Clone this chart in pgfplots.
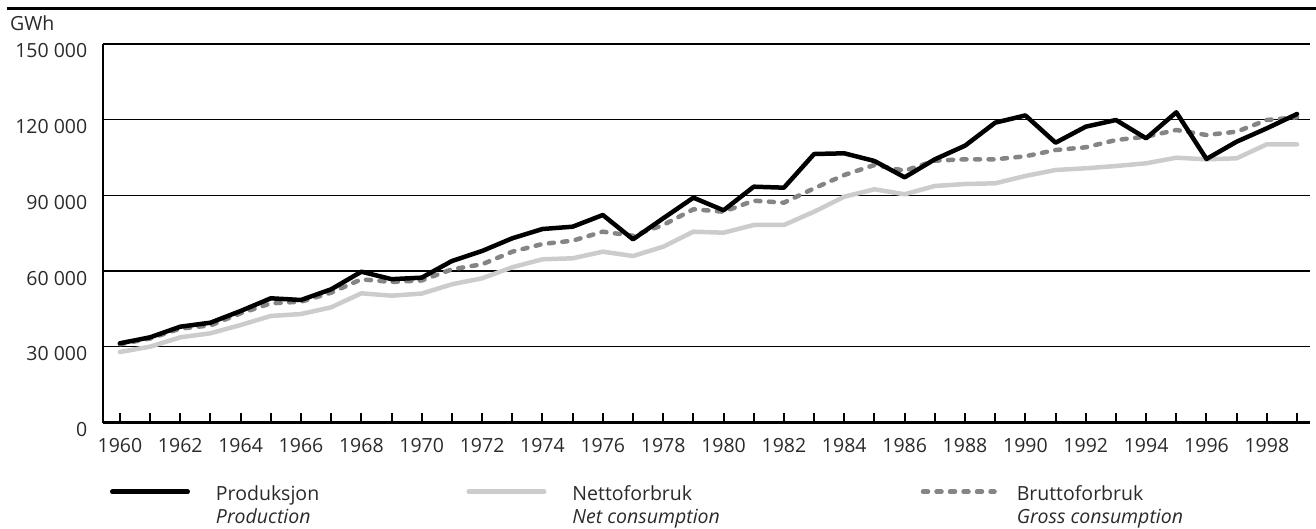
\documentclass[border=0pt]{standalone}
\usepackage{fontspec}
\setmainfont{Open Sans}
\usepackage{pgfplots}
\pgfplotsset{compat=1.18}
\usetikzlibrary{calc}
\definecolor{netc}{HTML}{CCCCCC}
\definecolor{brutc}{HTML}{858585}
\definecolor{txt}{HTML}{2A2A2A}
\newcommand{\fnt}{\fontsize{19.5bp}{22.6bp}\selectfont}
\newcommand{\lstrut}{\rule[-4.5bp]{0pt}{15.8bp}}
\pgfplotsset{
  longimg/.style={legend image code/.code={\path[draw=none,fill=none] (-2.25bp,-14bp) rectangle (77.75bp,14bp);
    \draw[##1,overlay] (0bp,7.2bp) -- (75.5bp,7.2bp);}},
  shortimg/.style={legend image code/.code={\path[draw=none,fill=none] (-2.25bp,-14bp) rectangle (67.75bp,14bp);
    \draw[##1,overlay] (0bp,7.2bp) -- (71.5bp,7.2bp);}},
}
\begin{document}
\begin{tikzpicture}
\begin{axis}[
  scale only axis,
  width=1207bp, height=378.5bp,
  xmin=1959.44, xmax=1999.43,
  ymin=0, ymax=150000,
  axis x line=bottom, axis y line=left,
  x axis line style={-, line width=2.5bp, black},
  y axis line style={-, line width=1.3bp, black},
  ymajorgrids,
  grid style={line width=1.2bp, black},
  xtick={1960,1962,...,1998},
  xticklabels={1960,1962,1964,1966,1968,1970,1972,1974,1976,1978,1980,1982,1984,1986,1988,1990,1992,1994,1996,1998},
  minor xtick={1961,1963,...,1999},
  ytick={0,30000,60000,90000,120000,150000},
  yticklabels={0,30\ 000,60\ 000,90\ 000,120\ 000,150\ 000},
  scaled y ticks=false,
  tick align=inside,
  major tick length=9bp, minor tick length=9bp,
  xtick style={line width=2bp, black},
  ytick style={draw=none},
  font=\fnt,
  tick label style={font=\fnt, text=txt},
  xticklabel style={yshift=-12.7bp},
  yticklabel style={xshift=-12.2bp, yshift=-7bp},
  legend columns=3,
  legend style={at={(rel axis cs:0,0)}, anchor=west, xshift=7bp, yshift=-76.4bp,
    draw=none, fill=none, inner sep=0pt, outer sep=0pt, column sep=0pt,
    cells={anchor=west, inner sep=0pt, text=txt},
    /tikz/every odd column/.append style={column sep=24bp},
    font=\fnt},
  longimg,
]
\coordinate (SW) at (rel axis cs:0,0);
\addplot[netc, line width=4.5bp, line cap=round, line join=round, forget plot] coordinates {
(1960,27940) (1961,30050) (1962,33760) (1963,35350) (1964,38640) (1965,42210)
(1966,43000) (1967,45650) (1968,51200) (1969,50250) (1970,51100) (1971,54770)
(1972,57150) (1973,61510) (1974,64680) (1975,65070) (1976,67690) (1977,65980)
(1978,69670) (1979,75620) (1980,75220) (1981,78270) (1982,78270) (1983,83540)
(1984,89490) (1985,92420) (1986,90440) (1987,93730) (1988,94520) (1989,94790)
(1990,97700) (1991,100070) (1992,100740) (1993,101650) (1994,102720) (1995,104940)
(1996,104300) (1997,104700) (1998,110250) (1999,110250)};
\addplot[brutc, line width=4.5bp, line cap=round, line join=round, dash pattern=on 5bp off 8.5bp, forget plot] coordinates {
(1960,31000) (1961,33300) (1962,37200) (1963,38500) (1964,43270) (1965,47230)
(1966,47880) (1967,51450) (1968,56750) (1969,55680) (1970,56300) (1971,60710)
(1972,62690) (1973,67690) (1974,70740) (1975,72050) (1976,75620) (1977,74000)
(1978,78270) (1979,84490) (1980,83540) (1981,87900) (1982,87110) (1983,92810)
(1984,98080) (1985,102050) (1986,99790) (1987,103760) (1988,104300) (1989,104300)
(1990,105500) (1991,107990) (1992,109060) (1993,111950) (1994,113270) (1995,115920)
(1996,113940) (1997,115250) (1998,119880) (1999,120950)};
\addplot[black, line width=4.5bp, line cap=round, line join=round] coordinates {
(1960,31390) (1961,33760) (1962,37970) (1963,39560) (1964,44190) (1965,49220)
(1966,48550) (1967,52790) (1968,59760) (1969,56800) (1970,57400) (1971,64000)
(1972,67970) (1973,73000) (1974,76680) (1975,77600) (1976,82230) (1977,72600)
(1978,80920) (1979,89090) (1980,84100) (1981,93450) (1982,93060) (1983,106400)
(1984,106680) (1985,103630) (1986,97170) (1987,104300) (1988,109700) (1989,118820)
(1990,121700) (1991,110890) (1992,117230) (1993,119880) (1994,112620) (1995,122930)
(1996,104430) (1997,111290) (1998,116590) (1999,122260)};
\addlegendentry{\parbox[c]{248.5bp}{\strut Produksjon\\\lstrut\textit{Production}}}
\addlegendimage{netc, line width=4.5bp, line cap=round}
\addlegendentry{\parbox[c]{346.3bp}{\strut Nettoforbruk\\\lstrut\textit{Net consumption}}}
\addlegendimage{brutc, line width=4.5bp, line cap=round, dash pattern=on 5bp off 8.5bp, shortimg}
\addlegendentry{\parbox[c]{250bp}{\strut Bruttoforbruk\\\lstrut\textit{Gross consumption}}}
\end{axis}
\draw[line width=3bp, black] ($(SW)+(-96bp,414.2bp)$) -- ($(SW)+(1213bp,414.2bp)$);
\node[anchor=base west, inner sep=0pt, font=\fnt, text=txt] at ($(SW)+(-93bp,392bp)$) {GWh};
\pgfresetboundingbox
\path[use as bounding box] ($(SW)+(-103bp,-106.5bp)$) rectangle ($(SW)+(1213bp,422.5bp)$);
\end{tikzpicture}
\end{document}
